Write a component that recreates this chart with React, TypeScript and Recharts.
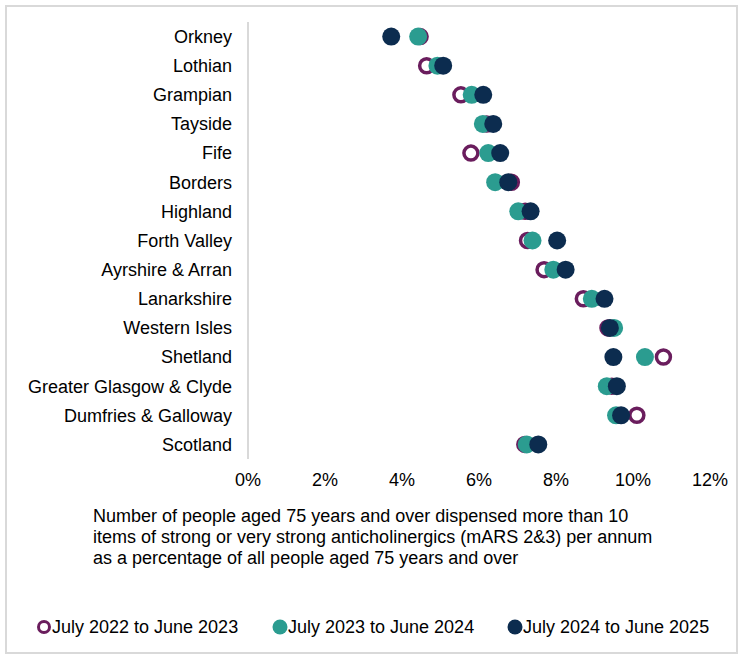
import React from "react";
import { ComposedChart, Scatter, XAxis, YAxis, Legend } from "recharts";

const regions = [
  "Orkney",
  "Lothian",
  "Grampian",
  "Tayside",
  "Fife",
  "Borders",
  "Highland",
  "Forth Valley",
  "Ayrshire & Arran",
  "Lanarkshire",
  "Western Isles",
  "Shetland",
  "Greater Glasgow & Clyde",
  "Dumfries & Galloway",
  "Scotland",
];

// percent values
const y2022 = [4.47, 4.64, 5.53, 6.2, 5.79, 6.84, 7.2, 7.26, 7.69, 8.71, 9.35, 10.79, 9.45, 10.1, 7.19];
const y2023 = [4.42, 4.92, 5.81, 6.1, 6.24, 6.42, 7.02, 7.39, 7.93, 8.93, 9.51, 10.31, 9.32, 9.56, 7.24];
const y2024 = [3.72, 5.07, 6.11, 6.37, 6.55, 6.76, 7.34, 8.03, 8.25, 9.26, 9.4, 9.49, 9.58, 9.69, 7.54];

const xTicks = [0, 2, 4, 6, 8, 10, 12];

const seriesNames = ["July 2022 to June 2023", "July 2023 to June 2024", "July 2024 to June 2025"];

const PURPLE = "#6a1d5d";
const TEAL = "#2b9c90";
const NAVY = "#0c2c4f";

const FONT = '"Liberation Sans", Arial, sans-serif';
const FS = 18;

const data = regions.map((name, i) => ({
  name,
  y2022: y2022[i],
  y2023: y2023[i],
  y2024: y2024[i],
}));

const ring = (props: any) => (
  <circle cx={props.cx} cy={props.cy} r={7} fill="#fff" stroke={PURPLE} strokeWidth={3.5} />
);
const disc = (color: string) => (props: any) =>
  <circle cx={props.cx} cy={props.cy} r={9} fill={color} />;

function LegendContent() {
  const items = [
    { label: seriesNames[0], hollow: true, color: PURPLE },
    { label: seriesNames[1], hollow: false, color: TEAL },
    { label: seriesNames[2], hollow: false, color: NAVY },
  ];
  const lefts = [36, 272, 507];
  return (
    <div style={{ position: "relative", width: 743, height: 22, fontFamily: FONT, fontSize: FS }}>
      {items.map((it, i) => (
        <div
          key={it.label}
          style={{ position: "absolute", left: lefts[i], top: 0, display: "flex", alignItems: "center", height: 22 }}
        >
          <svg width={16} height={16}>
            {it.hollow ? (
              <circle cx={8} cy={8} r={5.5} fill="#fff" stroke={it.color} strokeWidth={3} />
            ) : (
              <circle cx={8} cy={8} r={7.5} fill={it.color} />
            )}
          </svg>
          <span style={{ color: "#000" }}>{it.label}</span>
        </div>
      ))}
    </div>
  );
}

export default function App() {
  return (
    <div style={{ position: "absolute", left: 0, top: 0, width: 743, height: 659, background: "#fff" }}>
      <div
        style={{
          position: "absolute",
          left: 5,
          top: 5,
          width: 729,
          height: 645,
          border: "2px solid #d9d9d9",
          pointerEvents: "none",
        }}
      />
      <ComposedChart
        width={743}
        height={659}
        data={data}
        layout="vertical"
        margin={{ top: 22, right: 33, left: 0, bottom: 148 }}
      >
        <XAxis
          type="number"
          domain={[0, 12]}
          ticks={xTicks}
          tickFormatter={(v) => `${v}%`}
          axisLine={false}
          tickLine={false}
          tickSize={6}
          tickMargin={8}
          height={30}
          tick={{ fill: "#000", fontSize: FS, fontFamily: FONT }}
        />
        <YAxis
          type="category"
          scale="band"
          dataKey="name"
          width={248}
          axisLine={{ stroke: "#d9d9d9", strokeWidth: 2 }}
          tickLine={false}
          tickSize={6}
          tickMargin={10}
          interval={0}
          tick={{ fill: "#000", fontSize: FS, fontFamily: FONT }}
        />
        <Scatter name={seriesNames[0]} dataKey="y2022" shape={ring} isAnimationActive={false} />
        <Scatter name={seriesNames[1]} dataKey="y2023" shape={disc(TEAL)} isAnimationActive={false} />
        <Scatter name={seriesNames[2]} dataKey="y2024" shape={disc(NAVY)} isAnimationActive={false} />
        <Legend
          verticalAlign="bottom"
          content={() => <LegendContent />}
          wrapperStyle={{ top: 616, left: 0, width: 743, height: 22 }}
        />
      </ComposedChart>
      <div
        style={{
          position: "absolute",
          left: 93,
          top: 506,
          width: 620,
          fontFamily: FONT,
          fontSize: FS,
          lineHeight: "21px",
          color: "#000",
        }}
      >
        Number of people aged 75 years and over dispensed more than 10
        <br />
        items of strong or very strong anticholinergics (mARS 2&amp;3) per annum
        <br />
        as a percentage of all people aged 75 years and over
      </div>
    </div>
  );
}
